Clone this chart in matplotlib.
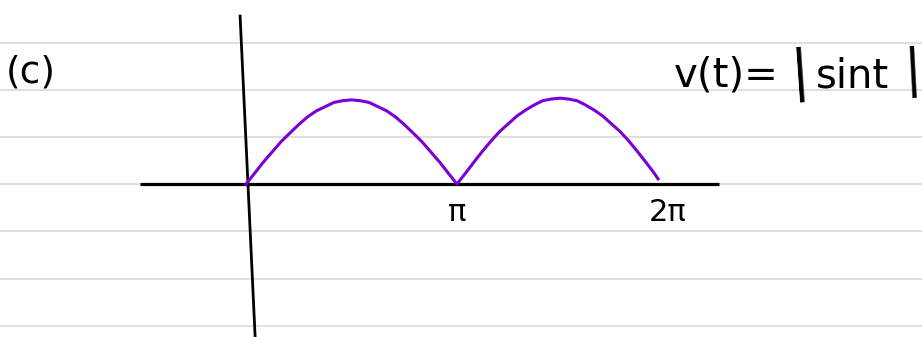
import matplotlib
matplotlib.use("Agg")
import matplotlib.pyplot as plt

# t in units of pi, v(t) (hand drawn arches)
t_pi = [0.0, 0.042, 0.083, 0.125, 0.167, 0.208, 0.25, 0.292, 0.333, 0.375, 0.417, 0.458,
        0.5, 0.542, 0.583, 0.625, 0.667, 0.708, 0.75, 0.792, 0.833, 0.875, 0.917, 0.958, 1.0,
        1.041, 1.081, 1.122, 1.163, 1.203, 1.244, 1.284, 1.325, 1.366, 1.406, 1.447,
        1.488, 1.528, 1.569, 1.609, 1.65, 1.691, 1.731, 1.772, 1.813, 1.853, 1.894, 1.934, 1.953]
v = [0.0, 0.13, 0.26, 0.38, 0.50, 0.60, 0.70, 0.79, 0.86, 0.91, 0.96, 0.98,
     0.99, 0.98, 0.96, 0.91, 0.86, 0.79, 0.70, 0.60, 0.50, 0.38, 0.26, 0.13, 0.0,
     0.13, 0.26, 0.39, 0.51, 0.62, 0.71, 0.80, 0.87, 0.93, 0.98, 1.0,
     1.01, 1.0, 0.98, 0.93, 0.87, 0.80, 0.71, 0.62, 0.51, 0.39, 0.26, 0.13, 0.06]

tick_pos = [1.0, 2.0]
tick_lbl = ["π", "2π"]

# notebook rules (in v units)
rules = [1.66, 1.106, 0.553, 0.0, -0.553, -1.118, -1.671]

fig = plt.figure(figsize=(9.22, 3.37), dpi=100)
ax = fig.add_axes([0, 0, 1, 1])
ax.set_xlim(-1.166, 3.204)
ax.set_ylim(-1.8, 2.165)
ax.axis("off")

for r in rules:
    ax.axhline(r, color="#d9d9d9", lw=1.2, zorder=0)

# hand drawn axes
ax.plot([-0.502, 2.242], [0, 0], color="black", lw=2.3, solid_capstyle="butt", zorder=2)
ax.plot([-0.028, 0.043], [1.976, -1.788], color="black", lw=2.0, zorder=2)

ax.plot(t_pi, v, color="#7a00d6", lw=2.2, solid_joinstyle="round", zorder=3)

for p, s in zip(tick_pos, tick_lbl):
    ax.text(p, -0.33, s, ha="center", va="center", fontsize=22, color="black")

ax.text(-1.02, 1.31, "(c)", ha="center", va="center", fontsize=27, color="black")

# v(t)= |sint|  (pieces placed in figure pixels / 922 wide, 337 high)
fig.text(674 / 922, 1 - 76 / 337, "v(t)=", ha="left", va="center", fontsize=29)
fig.text(800 / 922, 1 - 74 / 337, "|", ha="center", va="center", fontsize=40, rotation=4)
fig.text(852 / 922, 1 - 76 / 337, "sint", ha="center", va="center", fontsize=29)
fig.text(913 / 922, 1 - 72 / 337, "|", ha="center", va="center", fontsize=37, rotation=3)

fig.savefig("out.png", dpi=100)
